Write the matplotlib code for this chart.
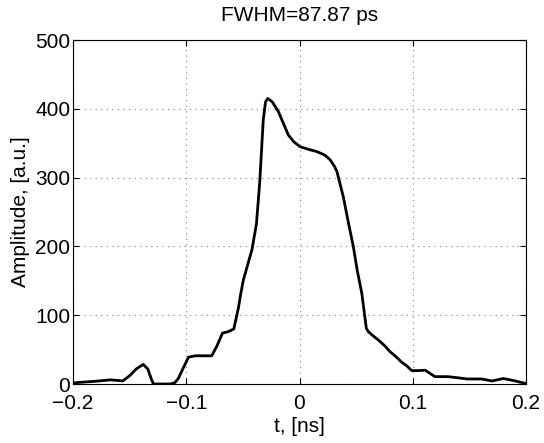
import matplotlib
matplotlib.use("Agg")
import matplotlib.pyplot as plt

t_ns = [-0.200, -0.197, -0.180, -0.167, -0.156, -0.150, -0.144, -0.138, -0.134, -0.131, -0.129,
        -0.120, -0.114, -0.110, -0.107, -0.103, -0.098, -0.092, -0.085, -0.0775, -0.073,
        -0.068, -0.063, -0.058, -0.054, -0.052, -0.0496, -0.046, -0.042, -0.038, -0.035,
        -0.032, -0.030, -0.028, -0.024, -0.0187, -0.014, -0.0099, -0.005, 0.0004, 0.008,
        0.015, 0.022, 0.027, 0.031, 0.033, 0.0387, 0.043, 0.0475, 0.051, 0.055, 0.059,
        0.0608, 0.065, 0.0696, 0.075, 0.0799, 0.085, 0.090, 0.095, 0.099, 0.105, 0.111,
        0.1196, 0.131, 0.140, 0.148, 0.161, 0.170, 0.180, 0.189, 0.199, 0.200]
amp = [1, 2, 4, 6, 4.5, 12, 22, 28.5, 22, 8, 0,
       0, 0, 2, 8, 22, 39, 41, 41, 41, 55,
       74, 76, 80, 110, 130, 151, 172, 195, 233, 296,
       384, 410, 415, 410, 396, 378, 362, 352, 345, 341,
       338, 333, 326, 316, 309, 272, 236, 200, 165, 132, 81,
       76, 70, 64, 56, 47, 40, 32, 26, 19.5, 19.5, 20,
       10.7, 10.7, 9, 7.3, 7.3, 4.4, 8, 5, 1, 0.5]

xticks = [-0.2, -0.1, 0, 0.1, 0.2]
xticklabels = ["\u22120.2", "\u22120.1", "0", "0.1", "0.2"]
yticks = [0, 100, 200, 300, 400, 500]

plt.rcParams['font.family'] = ['Liberation Sans', 'DejaVu Sans']
fig = plt.figure(figsize=(5.44, 4.43), dpi=100)
ax = fig.add_axes([73/544, 1-384/443, (526-73)/544, (384-40)/443])
ax.plot(t_ns, amp, color='black', lw=2)
ax.set_xlim(-0.2, 0.2)
ax.set_ylim(0, 500)
ax.set_xticks(xticks)
ax.set_xticklabels(xticklabels)
ax.set_yticks(yticks)
ax.grid(True, linestyle=(0, (1, 4)), color='#808080', lw=0.8)
ax.tick_params(direction='in', top=True, right=True, labelsize=15, length=4)
ax.tick_params(axis='x', pad=7)
ax.tick_params(axis='y', pad=2)
ax.set_xlabel("t, [ns]", fontsize=15, labelpad=3)
ax.set_ylabel("Amplitude, [a.u.]", fontsize=15, labelpad=4)
ax.set_title("FWHM=87.87 ps", fontsize=15, pad=13.5)
for s in ax.spines.values():
    s.set_linewidth(0.8)
fig.savefig("out.png", dpi=100)
